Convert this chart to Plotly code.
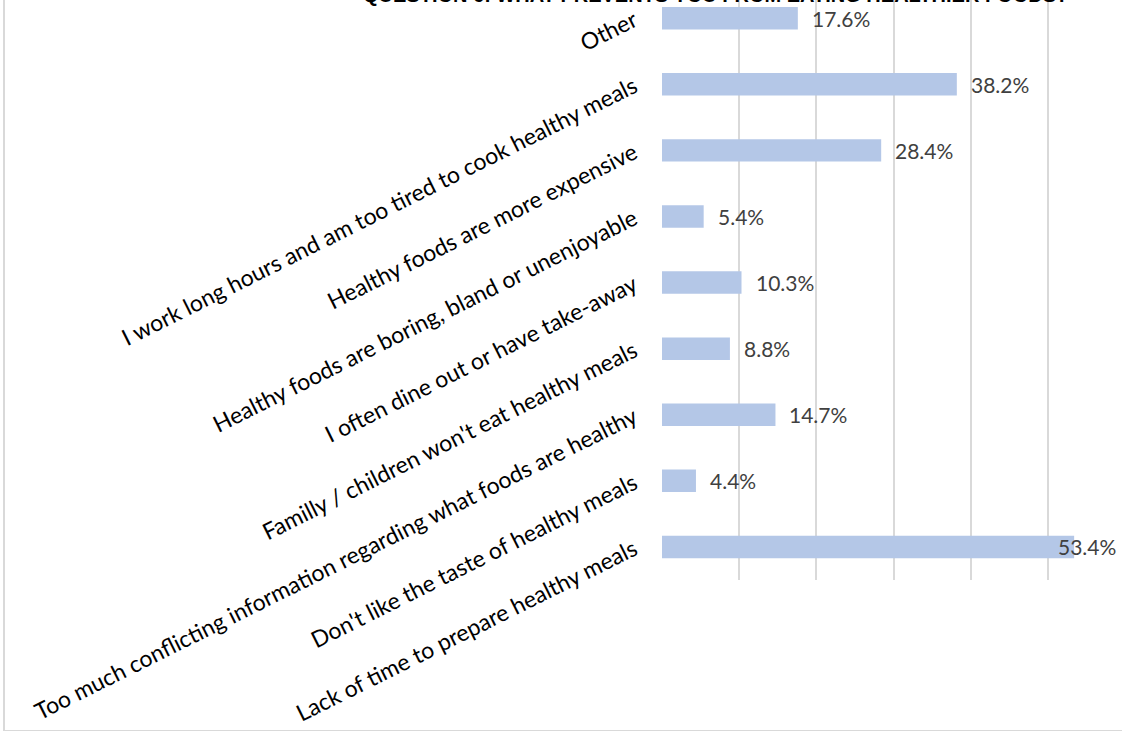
import plotly.graph_objects as go

categories = [
    "Lack of time to prepare healthy meals",
    "Don't like the taste of healthy meals",
    "Too much conflicting information regarding what foods are healthy",
    "Familly / children won't eat healthy meals",
    "I often dine out or have take-away",
    "Healthy foods are boring, bland or unenjoyable",
    "Healthy foods are more expensive",
    "I work long hours and am too tired to cook healthy meals",
    "Other",
]
values = [53.4, 4.4, 14.7, 8.8, 10.3, 5.4, 28.4, 38.2, 17.6]
value_labels = [f"{v:.1f}%" for v in values]
title_text = "QUESTION 6: WHAT PREVENTS YOU FROM EATING HEALTHIER FOODS?"

XMAX = 59.6
BAR_COLOR = "#b4c7e7"
LABEL_FONT = "Lato"

fig = go.Figure(
    go.Bar(
        x=values,
        y=categories,
        orientation="h",
        marker=dict(color=BAR_COLOR, line=dict(width=0)),
        width=0.34,
        hoverinfo="skip",
    )
)

annotations = []
for cat, v, lab in zip(categories, values, value_labels):
    if v + 9 > XMAX:
        annotations.append(dict(x=1, xref="paper", y=cat, yref="y", text=lab,
                                showarrow=False, xanchor="right", xshift=-4,
                                font=dict(family=LABEL_FONT, size=21, color="#404040")))
    else:
        annotations.append(dict(x=v, xref="x", y=cat, yref="y", text=lab,
                                showarrow=False, xanchor="left", xshift=12,
                                font=dict(family=LABEL_FONT, size=21, color="#404040")))

annotations.append(dict(x=(715 - 662) / 460, xref="paper", y=1, yref="paper",
                        text=f"<b>{title_text}</b>", showarrow=False,
                        xanchor="center", yanchor="bottom", yshift=-8,
                        font=dict(family="Liberation Sans", size=20, color="#000000")))

shapes = [
    dict(type="line", xref="paper", yref="paper",
         x0=(4 - 662) / 460, x1=(4 - 662) / 460, y0=-151 / 580, y1=1.1,
         line=dict(color="#d9d9d9", width=2)),
    dict(type="line", xref="paper", yref="paper",
         x0=(4 - 662) / 460, x1=1.1, y0=-151 / 580, y1=-151 / 580,
         line=dict(color="#d9d9d9", width=2)),
]

fig.update_layout(
    width=1122,
    height=731,
    margin=dict(l=662, r=0, t=0, b=151, autoexpand=False),
    plot_bgcolor="white",
    paper_bgcolor="white",
    showlegend=False,
    annotations=annotations,
    shapes=shapes,
    xaxis=dict(range=[0, XMAX], dtick=10, showgrid=True, gridcolor="#d9d9d9",
               gridwidth=1.5, showticklabels=False, zeroline=False,
               showline=False, ticks="", automargin=False),
    yaxis=dict(range=[-0.5, 8.275], tickangle=-26.5, showgrid=False,
               ticks="", ticklen=0, showline=False, ticklabelstandoff=27,
               automargin=False,
               tickfont=dict(family=LABEL_FONT, size=23, color="#000000")),
)

fig.write_html("out.html")
